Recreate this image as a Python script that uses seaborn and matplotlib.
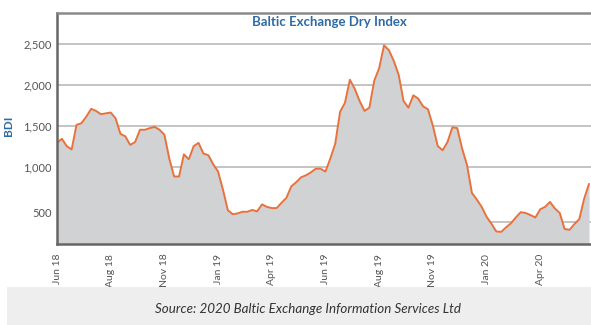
import matplotlib
matplotlib.use("Agg")
import matplotlib.pyplot as plt
import seaborn as sns
import numpy as np
import pandas as pd

# ---- data (weekly BDI readings) ----
bdi_values = [
    1290, 1340, 1250, 1210, 1510, 1530, 1610, 1705, 1680, 1640,
    1650, 1660, 1590, 1400, 1370, 1265, 1300, 1450, 1450, 1470,
    1485, 1450, 1390, 1100, 880, 880, 1150, 1090, 1250, 1290,
    1160, 1140, 1030, 940, 720, 470, 420, 430, 450, 450,
    472, 455, 540, 510, 495, 495, 560, 620, 760, 810,
    870, 895, 930, 975, 975, 940, 1100, 1280, 1670, 1780,
    2060, 1950, 1800, 1680, 1720, 2050, 2200, 2480, 2420, 2290,
    2120, 1800, 1720, 1870, 1830, 1735, 1700, 1500, 1252, 1200,
    1300, 1480, 1470, 1220, 1020, 680, 600, 510, 390, 305,
    210, 205, 260, 310, 380, 445, 435, 410, 380, 480,
    510, 570, 490, 435, 240, 230, 300, 360, 610, 790,
]
tick_labels = ["Jun 18", "Aug 18", "Nov 18", "Jan 19", "Apr 19",
               "Jun 19", "Aug 19", "Nov 19", "Jan 20", "Apr 20"]
tick_every = 11
grid_values = [2500, 2000, 1500, 1000, 329]
ylabel_values = [2500, 2000, 1500, 1000, 440]
ylabel_texts = ["2,500", "2,000", "1,500", "1,000", "500"]

title = "Baltic Exchange Dry Index"
source = "Source: 2020 Baltic Exchange Information Services Ltd"

df = pd.DataFrame({"week": np.arange(len(bdi_values)), "BDI": bdi_values})

sns.set_theme(style="white")
plt.rcParams["font.family"] = ["Lato", "DejaVu Sans"]

W, H = 591, 325
fig = plt.figure(figsize=(W / 100, H / 100), dpi=100)
ax = fig.add_axes([57 / W, 1 - 244 / H, (W - 57) / W, (244 - 13) / H])

ymin, ymax = 57, 2874
ax.set_ylim(ymin, ymax)
ax.set_xlim(0, 109.4)

for g in grid_values:
    ax.axhline(g, color="#c4c4c4", lw=1.4, zorder=0)

ax.fill_between(df["week"], ymin, df["BDI"], color="#d1d2d4", zorder=1, lw=0)
sns.lineplot(data=df, x="week", y="BDI", ax=ax, color="#e8723c", lw=1.4, zorder=2)

ax.set_yticks(ylabel_values)
ax.set_yticklabels(ylabel_texts)
ax.set_xticks(np.arange(len(tick_labels)) * tick_every)
ax.set_xticklabels(tick_labels, rotation=90)
ax.tick_params(axis="y", length=0, pad=4, labelsize=8, labelcolor="#555555")
ax.tick_params(axis="x", direction="in", length=5, width=1.3, color="#555555",
               pad=7, labelsize=7.5, labelcolor="#555555")
ax.set_xlabel("")
ax.set_ylabel("BDI", color="#2e6aa3", fontweight="bold", fontsize=8.5)
ax.yaxis.set_label_coords((14 - 57) / (W - 57), (244 - 126) / (244 - 13))

for side in ["left", "bottom"]:
    ax.spines[side].set_color("#666666")
    ax.spines[side].set_linewidth(1.8)
ax.spines["top"].set_color("#8a8a8a")
ax.spines["top"].set_linewidth(1.8)
ax.spines["right"].set_visible(False)

ax.text(0.51, 0.96, title, transform=ax.transAxes, ha="center", va="center",
        color="#2e6aa3", fontweight="bold", fontsize=9.5)

# source box
box = plt.Rectangle((7 / W, 0), 1 - 7 / W, 1 - 287 / H, transform=fig.transFigure,
                    color="#eeeeee", lw=0, zorder=0)
fig.patches.append(box)
fig.text(308 / W, 1 - 309 / H, source, ha="center", va="center",
         style="italic", fontsize=9.6, color="#333333")

fig.savefig("out.png", dpi=100)
